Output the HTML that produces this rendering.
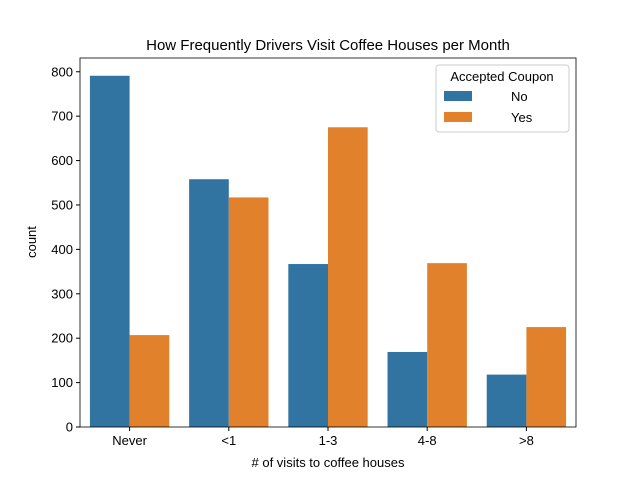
<!DOCTYPE html>
<html><head><meta charset="utf-8"><style>
body{margin:0;background:#fff;}
svg text{font-family:"Liberation Sans","DejaVu Sans",sans-serif;fill:#000;}
</style></head><body>
<svg id="chart" width="640" height="480" xmlns="http://www.w3.org/2000/svg">
<rect width="640" height="480" fill="#fff"/>
<text x="328" y="50" font-size="15" text-anchor="middle">How Frequently Drivers Visit Coffee Houses per Month</text>
<g id="bars"></g>
<g id="axes"></g>
<text x="328" y="467" font-size="13" text-anchor="middle"># of visits to coffee houses</text>
<text transform="translate(36,242) rotate(-90)" font-size="13" text-anchor="middle">count</text>
<g>
<rect x="436" y="65" width="133" height="67" rx="3" fill="#fff" fill-opacity="0.8" stroke="#ccc"/>
<text x="502" y="81" font-size="13" text-anchor="middle">Accepted Coupon</text>
<rect x="444" y="91" width="28" height="10" fill="#3274a1"/>
<text x="511" y="101" font-size="13">No</text>
<rect x="444" y="112" width="28" height="10" fill="#e1812c"/>
<text x="511" y="122" font-size="13">Yes</text>
</g>
</svg>
<script>
const categories=["Never","<1","1-3","4-8",">8"];
const noValues=[791,558,367,169,118];
const yesValues=[207,517,675,369,225];
const yTicks=[0,100,200,300,400,500,600,700,800];
const L=80,R=576,T=58,B=427,YMAX=831;
const ns="http://www.w3.org/2000/svg";
function y(v){return B-(v/YMAX)*(B-T);}
function xc(i){return L+(R-L)/categories.length*(i+0.5);}
const bw=(R-L)/categories.length*0.4;
const bars=document.getElementById('bars'),axes=document.getElementById('axes');
function mk(tag,attrs,parent){const e=document.createElementNS(ns,tag);for(const k in attrs)e.setAttribute(k,attrs[k]);parent.appendChild(e);return e;}
categories.forEach((c,i)=>{
 const r1=mk('rect',{x:xc(i)-bw,y:y(noValues[i]),width:bw,height:B-y(noValues[i]),fill:'#3274a1'},bars);
 
 
 const r2=mk('rect',{x:xc(i),y:y(yesValues[i]),width:bw,height:B-y(yesValues[i]),fill:'#e1812c'},bars);
 
 
 mk('line',{x1:xc(i),x2:xc(i),y1:B,y2:B+4,stroke:'#000'},axes);
 const t=mk('text',{x:xc(i),y:B+18,'font-size':13,'text-anchor':'middle'},axes);t.textContent=c;
 
 
});
yTicks.forEach(v=>{
 mk('line',{x1:L-4,x2:L,y1:y(v),y2:y(v),stroke:'#000'},axes);
 const t=mk('text',{x:L-7,y:y(v)+4.5,'font-size':13,'text-anchor':'end'},axes);t.textContent=v;
 
 
});
mk('rect',{x:L,y:T,width:R-L,height:B-T,fill:'none',stroke:'#000','stroke-width':0.8},axes);
</script>
</body></html>
